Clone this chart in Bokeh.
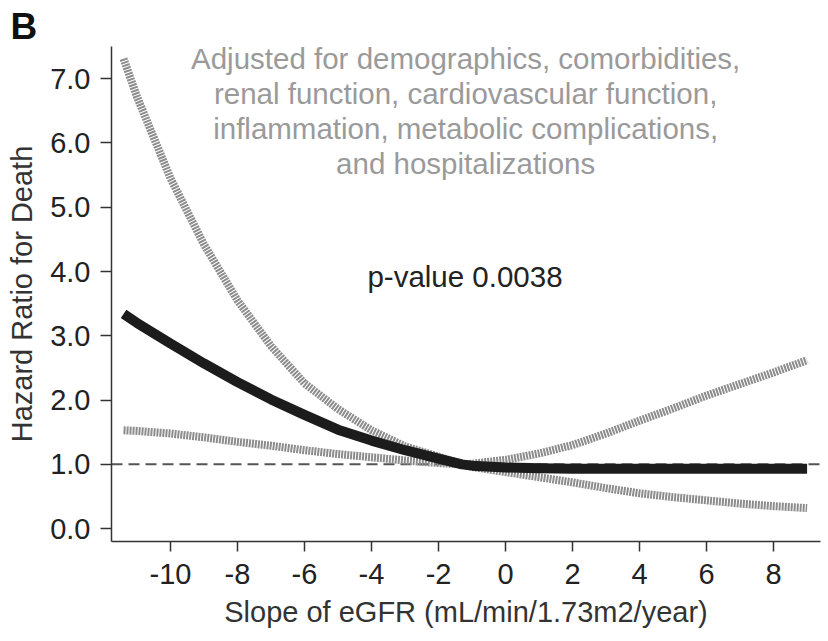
from bokeh.plotting import figure
from bokeh.models import Range1d, Span, Label, FixedTicker, CustomJSTickFormatter
from bokeh.embed import file_html
from bokeh.resources import INLINE

# eGFR slope (mL/min/1.73m2/year) and hazard ratio for death with 95% CI
slope = [-11.4, -11, -10, -9, -8, -7, -6, -5, -4, -3, -2, -1.3, -1,
         0, 1, 2, 3, 4, 5, 6, 7, 8, 9]
hr = [3.34, 3.20, 2.88, 2.57, 2.28, 2.01, 1.77, 1.54, 1.37, 1.22, 1.09, 1.00, 0.98,
      0.95, 0.94, 0.93, 0.93, 0.93, 0.93, 0.93, 0.93, 0.93, 0.93]
hr_upper = [7.31, 6.72, 5.45, 4.42, 3.55, 2.84, 2.26, 1.86, 1.53, 1.28, 1.12, 1.00, 1.01,
            1.07, 1.17, 1.30, 1.48, 1.68, 1.87, 2.07, 2.25, 2.43, 2.62]
hr_lower = [1.53, 1.52, 1.48, 1.42, 1.35, 1.29, 1.22, 1.16, 1.11, 1.06, 1.02, 1.00, 0.96,
            0.88, 0.80, 0.72, 0.63, 0.55, 0.49, 0.44, 0.39, 0.35, 0.32]

x_ticks = [-10, -8, -6, -4, -2, 0, 2, 4, 6, 8]
y_ticks = [0, 1, 2, 3, 4, 5, 6, 7]

panel_letter = "B"
adjust_lines = [
    "Adjusted for demographics, comorbidities,",
    "renal function, cardiovascular function,",
    "inflammation, metabolic complications,",
    "and hospitalizations",
]
p_text = "p-value 0.0038"

FONT = "Liberation Sans"

p = figure(width=828, height=641, output_backend="svg", toolbar_location=None,
           x_range=Range1d(-11.76, 9.40), y_range=Range1d(-0.20, 7.50),
           min_border_left=111, min_border_right=8, min_border_top=46,
           min_border_bottom=100)
p.outline_line_color = None
p.xgrid.visible = False
p.ygrid.visible = False
p.background_fill_color = "white"
p.border_fill_color = "white"

# panel letter in the top-left corner
p.title.text = panel_letter
p.title.text_font = FONT
p.title.text_font_size = "37px"
p.title.text_font_style = "bold"
p.title.text_color = "#111111"
p.title.align = "left"
p.title.offset = -101
p.title.standoff = 0

# reference line at HR = 1
p.add_layout(Span(location=1.0, dimension="width", line_color="#555555",
                  line_width=2, line_dash="11 6", level="underlay"))

# confidence limits (striped grey) and the estimate (solid black)
p.line(slope, hr_upper, line_color="#8c8c8c", line_width=8, line_dash="2 1")
p.line(slope, hr_lower, line_color="#8c8c8c", line_width=8, line_dash="2 1")
p.line(slope, hr, line_color="#1c1c1c", line_width=10)

for ax in (p.xaxis[0], p.yaxis[0]):
    ax.axis_line_color = "#333333"
    ax.axis_line_width = 1.5
    ax.major_tick_line_color = "#333333"
    ax.major_tick_line_width = 1.5
    ax.major_tick_in = 0
    ax.minor_tick_line_color = None
    ax.major_label_text_font = FONT
    ax.major_label_text_font_size = "29px"
    ax.major_label_text_color = "#222222"
    ax.axis_label_text_font = FONT
    ax.axis_label_text_font_size = "29px"
    ax.axis_label_text_font_style = "normal"
    ax.axis_label_text_color = "#333333"

p.xaxis.ticker = FixedTicker(ticks=x_ticks)
p.yaxis.ticker = FixedTicker(ticks=y_ticks)
p.xaxis.formatter = CustomJSTickFormatter(code="return String(tick);")
p.yaxis.formatter = CustomJSTickFormatter(code="return tick.toFixed(1);")
p.xaxis.major_tick_out = 10
p.yaxis.major_tick_out = 11
p.xaxis.major_label_standoff = 12
p.yaxis.major_label_standoff = 10
p.xaxis.axis_label = "Slope of eGFR (mL/min/1.73m2/year)"
p.yaxis.axis_label = "Hazard Ratio for Death"
p.xaxis.axis_label_standoff = 9
p.yaxis.axis_label_standoff = 9

# adjustment note
for i, line in enumerate(adjust_lines):
    p.add_layout(Label(x=-1.19, y=7.31 - i * 0.545, text=line, text_font=FONT,
                       text_font_size="29.5px", text_color="#9a9a9a",
                       text_align="center", text_baseline="alphabetic"))

p.add_layout(Label(x=-1.21, y=3.92, text=p_text, text_font=FONT,
                   text_font_size="29.5px", text_color="#222222",
                   text_align="center", text_baseline="alphabetic"))

open("out.html", "w").write(file_html(p, INLINE))
